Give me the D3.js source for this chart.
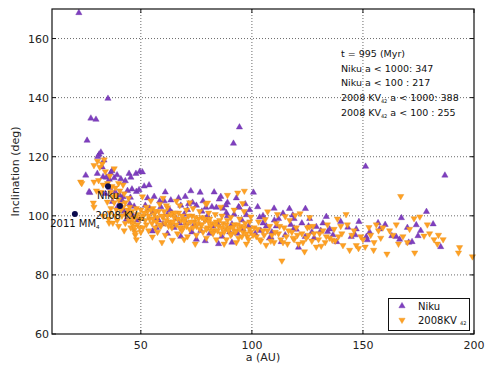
<!DOCTYPE html>
<html>
<head>
<meta charset="utf-8">
<script src="https://cdn.jsdelivr.net/npm/d3@7"></script>
<style>
  body { margin: 0; background: #fff; }
  svg { display: block; font-family: "DejaVu Sans", sans-serif; }
</style>
</head>
<body>
<div id="wrapper"></div>
<script>
// Niku clones: [a (AU), inclination (deg)]
const nikuPoints = [
  [22.1,168.7],[35.2,139.7],[27.5,133],[29.8,132.6],[25.8,125.5],[91.7,124.5],[94.4,130],[151.2,116.7],[186.9,113.7],
  [25.2,113.7],[27.0,107.8],[30.4,114.3],[31.2,120.8],[32.0,121.5],[30.6,120.0],[33.4,118.8],[32.6,116.5],[33.0,113.2],
  [34.5,113.0],[36.4,114.5],[37.0,115.2],[35.8,112.3],[38.0,112.8],[39.3,113.8],[41.0,112.5],[43.0,111.8],[44.7,114.3],
  [45.5,113.0],[47.8,114.3],[49.5,115.0],[36.0,109.5],[38.5,108.0],[40.5,107.0],[42.0,106.4],[44.0,108.5],[46.0,109.0],
  [48.0,108.2],[49.2,108.8],[26.7,108.1],[34.0,107.5],[37.2,104.8],[39.5,103.0],[42.5,101.5],[45.0,104.0],[47.0,103.2],
  [46.5,100.0],[48.5,98.5],[43.5,98.8],[41.5,105.3],[45.3,106.2],
  [50.7,114.8],[51.5,110],[53.7,110.4],[55.5,101.3],[60.5,105],[63.5,105.3],[72.5,108.4],[76.7,107.9],[73.3,104.5],
  [70.0,106.5],[71.5,104.0],[69.5,100.5],[70.5,97.5],[74.0,97.0],[79.3,102.8],[77.5,101.5],[82.0,103.0],[84.0,102.8],
  [85.3,105.6],[87.0,102.5],[89.0,104.5],[55.2,94.8],[58.0,98.5],[60.0,97.2],[66.0,99.0],[67.5,97.5],[63.0,102.0],
  [52.0,103.5],[54.0,102.5],[56.5,99.0],[79.5,98.5],[82.5,96.5],[81.0,94.0],[90.0,94.5],[93.5,94.0],[88.5,101.0],
  [92.0,100.5],[95.5,98.5],[97.5,100.3],[91.0,97.2],[96.0,95.5],[98.5,96.5],[86.5,93.0],[75.0,92.0],[62.0,100.5],
  [68.0,103.5],[65.0,96.0],[84.5,97.5],[94.0,103.0],[99.0,102.0],[58.5,105.0],[77.0,95.0],[88.3,103.6],[94.3,102.8],
  [56,106.5],[59,103],[61,108],[64,101],[67,106],[71,102],[75,103.5],[78,105],[80,100],[83,108],[86,106.5],[89,100],
  [93,106],[97,104],[53,106],[57,96],[62,94],[68,93],[73,94.5],[79,91.5],[85,90.5],[91,91],
  [100.7,107.9],[102.6,103],[103.5,99.5],[105,97.5],[104,95],[106.5,96.5],[107.9,92.4],[108.6,92.7],[110.1,98.5],
  [111,96.5],[112,99],[113.2,91.2],[114,100.8],[116.9,102.4],[118.4,100.2],[117.5,97],[119,95.8],[120,95.4],[121,89.3],
  [122.5,97.5],[124.1,102.4],[124,92.9],[125.5,96.5],[127,94.5],[129,96.3],[131,95],[133.5,99.7],[134.1,94.6],[135,95.5],
  [136.5,93.5],[138.2,91.2],[143.2,96.1],[144.7,92.9],[146.5,93.5],[148.2,98],[151.5,92.9],[152,91.8],[153,94.5],
  [156.8,97.6],[157.5,95.5],[163,93.2],[165,92.9],[166.5,92],[167.3,99.3],[170.6,91],[172.1,91.2],[174,96.9],
  [174.8,93.2],[178.6,101.4],[181.6,97.2],[185,89.5],[101.5,94],[109,94.5],[115,93.5],[128,92.5],
  [105,100],[110,102.5],[119,99],[126,99],[132,97.5],[140,98],[147,95.5],[160,97],[170,96],[176,95]
];

// 2008 KV42 clones: [a (AU), inclination (deg)]
const kvPoints = [
  [22.9,111.5],[23.4,111],[28.9,117.1],[30.5,118.5],[32.6,117.6],[33.5,119],[31.5,116.5],[28.9,111.5],[28.6,104.4],
  [28.9,103],[30,108.5],[31,112],[33,110.5],[34.9,104.7],[36.1,101],[39.4,98.5],[45.5,98],[47,95.2],[47.5,93.5],
  [35,111],[36.5,108],[37.5,106.5],[38,104.5],[39,107],[40,105.5],[41,104],[42,103],[43,104.5],[44,102],[45,100.5],
  [46,101.5],[47.5,99.5],[48.5,100.5],[49.5,99],[37,110],[38.5,109.5],[40.5,108.5],[42.5,107.5],[44.5,106],[39,102],
  [41.5,100],[43.5,100.5],[46.5,97.5],[48,102.5],[50,102],[34,115],[36,113.5],[38,116],[40,111],[32,108],[35.5,99],
  [33,100],[36.5,102.5],[45.5,96],[42,110.5],[35.7,97.6],[37.4,97.6],[47.4,94.3],[47,96.3],
  [44.5,98.5],[46.5,99],[48.5,97],[49.5,96],[45,103],[43,97.5],[41,102],[38.5,100],[40,96.5],[42.5,95],[50,94.5],
  [51,96],[48,92],
  [50.7,106.5],[54.5,105.1],[62,102.8],[79.3,104],[80,104.4],[55.2,92.9],[64.2,91.8],[69.5,92],[51,100],[52,98.5],
  [53,101.5],[54,99],[55,97.5],[56,100.5],[57,98],[58,101.5],[59,96.5],[60,99.5],[61,97.5],[62,100],[63,98],[64,96],
  [65,99.5],[66,97],[67,101],[68,98.5],[69,96],[70,99],[71,97.5],[72,95.5],[73,100],[74,98],[75,96.5],[76,99],[77,97],
  [78,94.5],[79,98.5],[80,96],[81,99],[82,97.5],[83,95],[84,98],[85,96.5],[86,94],[87,97.5],[88,95.5],[89,98.5],[90,96],
  [91,94],[92,97],[93,95],[94,92.5],[95,96.5],[96,94.5],[97,97.5],[98,93],[99,95.5],[52.5,103],[55.5,102.5],[58.5,104],
  [61.5,103.5],[64.5,101],[67.5,103.5],[70.5,102],[73.5,102.5],[76.5,101.5],[80.5,101],[83.5,100.5],[86.5,100],
  [90.5,99.5],[94.5,99],[53.5,95],[57.5,94.5],[61,93.5],[66.5,94],[71,93],[75,93.5],[79.5,92.5],[84,92],[88.5,92],
  [93,91],[97.5,90.5],[60,106],[66,105],[72,104.5],[86,103],[92,102],[89,107],[93.6,107.8],[96.6,108.4],[95.8,104.2],
  [63.5,97],[77.5,99.5],[81.5,95],[68.5,95],[56.5,96],[87.5,90.5],[74.5,90.5],[59.5,91],[99,98],[96.5,101.5],
  [50.5,99.5],[51.5,101],[52.5,97],[53.5,100],[54.5,102],[55.5,99],[56.5,101.5],[57.5,99.5],[58.5,97],[59.5,100],
  [60.5,101.5],[61.5,98.5],[62.5,96.5],[63.5,100.5],[64.5,98],[65.5,101],[66.5,99],[67.5,96],[68.5,100],[69.5,98],
  [70.5,96.5],[71.5,100],[72.5,98],[73.5,96],[74.5,99.5],[75.5,97.5],[76.5,95.5],[77.5,97],[78.5,99],[79.5,95.5],
  [80.5,98],[81.5,96.5],[82.5,94],[83.5,97],[84.5,95],[85.5,98.5],[86.5,96],[87.5,94.5],[88.5,97],[89.5,95],[90.5,93.5],
  [91.5,96],[92.5,94.5],[93.5,97],[94.5,95.5],[95.5,93],[96.5,96],[97.5,94],[98.5,92],[99.5,94.5],
  [99.5,99.7],[101,96],[102,93],[103,98],[104,91.5],[105,95],[106.4,90.1],[107.1,101.4],[108,96.5],[109,93.5],[110,91],
  [111,97.5],[112,94],[113,92],[113.5,84.8],[114.5,96],[115.5,93],[116,90.5],[117,98.5],[118,94.5],[119,92],[120,96],
  [121,90.5],[121.7,100.8],[122.5,94],[123.7,87.9],[124.5,92.5],[125,96],[126,96.3],[127,91.5],[128,94],[129,89.5],
  [130,92],[131.2,89.8],[132,95],[133,91],[134,97],[135,92.5],[136.2,91.8],[137,95.5],[138.5,99],[139,93],[140,96.5],
  [141,90],[142.4,100.5],[143,97],[144,88.4],[145,93.5],[147,90],[148,89],[150,92],[151,89.5],[152.7,96.1],[153.5,93.5],
  [154.8,88.4],[156,97],[157,95],[158,92.5],[160.8,87.1],[162,95],[165,97],[167,106.6],[168,93],[170,91],[173,99.1],
  [173.3,87.5],[175.6,99.7],[177.5,93.2],[180,94],[182,92],[184,93.5],[186.1,92],[193,87.5],[193.5,89.3],[199.3,86.2],
  [111.5,100.5],[115,99.8],[119.5,100.2],[106,98.8],[126,99.5],
  [100.5,93.5],[102.5,95.5],[103.5,92],[105.5,93.5],[107,95],[108.5,91.5],[110.5,94.5],[112.5,96.5],[114,91],[116.5,95],
  [118.5,92.5],[120.5,93.5],[123,91],[125.5,93.5],[127.5,96.5],[130.5,94],[133.5,93],[137.5,91.5],[140.5,94],[146,95],
  [149,93],[155,91],[159,96],[163.5,93.5],[166,90.5],[171,95.5],[179,97],[183.5,90.5]
];

// named objects
const namedNames = ["2011 MM", "Niku", "2008 KV"];
const namedSubs = ["4", "", "42"];
const namedA = [20.3, 35.2, 40.6];
const namedInc = [100.6, 110.0, 103.3];

const xTicks = [50, 100, 150, 200];
const yTicks = [60, 80, 100, 120, 140, 160];

const infoLines = [
  ["t = 995 (Myr)", "", ""],
  ["Niku a < 1000: 347", "", ""],
  ["Niku a < 100 : 217", "", ""],
  ["2008 KV", "42", " a < 1000: 388"],
  ["2008 KV", "42", " a < 100 : 255"]
];

const purple = "#7f3fbf";
const orange = "#ffa124";

const dims = { width: 500, height: 367, left: 52, right: 474, top: 9, bottom: 334 };

const svg = d3.select("#wrapper").append("svg")
  .attr("width", dims.width)
  .attr("height", dims.height);

const x = d3.scaleLinear().domain([10, 200]).range([dims.left, dims.right]);
const y = d3.scaleLinear().domain([60, 170]).range([dims.bottom, dims.top]);

// grid
svg.append("g").selectAll("line").data(xTicks.filter(d => d < 200)).join("line")
  .attr("x1", d => x(d)).attr("x2", d => x(d))
  .attr("y1", dims.top).attr("y2", dims.bottom)
  .attr("stroke", "#444").attr("stroke-width", 0.8).attr("stroke-dasharray", "1,2");
svg.append("g").selectAll("line").data(yTicks.filter(d => d > 60)).join("line")
  .attr("x1", dims.left).attr("x2", dims.right)
  .attr("y1", d => y(d)).attr("y2", d => y(d))
  .attr("stroke", "#444").attr("stroke-width", 0.8).attr("stroke-dasharray", "1,2");

// text box
const info = svg.append("g").attr("font-size", 9.5).attr("fill", "#111");
infoLines.forEach((l, i) => {
  const t = info.append("text").attr("x", 341).attr("y", 57 + i * 14.7);
  t.append("tspan").text(l[0]);
  if (l[1]) {
    t.append("tspan").attr("font-size", 5).attr("dy", 2).text(l[1]);
    t.append("tspan").attr("dy", -2).text(l[2]);
  }
});

const triUp = d3.symbol().type(d3.symbolTriangle).size(17);

// Niku first, then 2008 KV42 on top (legend order)
svg.append("g").selectAll("path").data(nikuPoints).join("path")
  .attr("d", triUp)
  .attr("transform", d => `translate(${x(d[0])},${y(d[1])})`)
  .attr("fill", purple).attr("stroke", "#6a30a8").attr("stroke-width", 0.4);

svg.append("g").selectAll("path").data(kvPoints).join("path")
  .attr("d", triUp)
  .attr("transform", d => `translate(${x(d[0])},${y(d[1])}) rotate(180)`)
  .attr("fill", orange).attr("stroke", "#e8901a").attr("stroke-width", 0.4);

// labels of named objects (under the points)
const labels = svg.append("g").attr("font-size", 10).attr("fill", "#111");
namedNames.forEach((n, i) => {
  const t = labels.append("text")
    .attr("x", x(namedA[i]))
    .attr("y", y(namedInc[i]) + 13)
    .attr("text-anchor", "middle");
  t.append("tspan").text(n);
  if (namedSubs[i]) t.append("tspan").attr("font-size", 5.5).attr("dy", 2).text(namedSubs[i]);
});

svg.append("g").selectAll("circle").data(namedA).join("circle")
  .attr("cx", d => x(d))
  .attr("cy", (d, i) => y(namedInc[i]))
  .attr("r", 3)
  .attr("fill", "#0b0b4d");

// frame
svg.append("rect")
  .attr("x", dims.left).attr("y", dims.top)
  .attr("width", dims.right - dims.left).attr("height", dims.bottom - dims.top)
  .attr("fill", "none").attr("stroke", "#111").attr("stroke-width", 1.2);

// ticks inward on all four sides
const ticks = svg.append("g").attr("stroke", "#111").attr("stroke-width", 1);
xTicks.forEach(d => {
  ticks.append("line").attr("x1", x(d)).attr("x2", x(d)).attr("y1", dims.bottom).attr("y2", dims.bottom - 4);
  ticks.append("line").attr("x1", x(d)).attr("x2", x(d)).attr("y1", dims.top).attr("y2", dims.top + 4);
});
yTicks.forEach(d => {
  ticks.append("line").attr("x1", dims.left).attr("x2", dims.left + 4).attr("y1", y(d)).attr("y2", y(d));
  ticks.append("line").attr("x1", dims.right).attr("x2", dims.right - 4).attr("y1", y(d)).attr("y2", y(d));
});

// tick labels
svg.append("g").attr("font-size", 11).attr("fill", "#222").attr("text-anchor", "middle")
  .selectAll("text").data(xTicks).join("text")
  .attr("x", d => x(d)).attr("y", dims.bottom + 15).text(d => d);
svg.append("g").attr("font-size", 11).attr("fill", "#222").attr("text-anchor", "end")
  .selectAll("text").data(yTicks).join("text")
  .attr("x", dims.left - 3).attr("y", d => y(d) + 4).text(d => d);

// axis titles
svg.append("text").attr("x", (dims.left + dims.right) / 2).attr("y", 361)
  .attr("text-anchor", "middle").attr("font-size", 11).attr("fill", "#222").text("a (AU)");
svg.append("text")
  .attr("transform", `translate(19,${(dims.top + dims.bottom) / 2}) rotate(-90)`)
  .attr("text-anchor", "middle").attr("font-size", 11).attr("fill", "#222").text("Inclination (deg)");

// legend
const legend = svg.append("g");
legend.append("rect").attr("x", 388.5).attr("y", 298.5).attr("width", 81).attr("height", 32)
  .attr("fill", "#fff").attr("stroke", "#111").attr("stroke-width", 1);
legend.append("path").attr("d", triUp).attr("transform", "translate(402,306)")
  .attr("fill", purple).attr("stroke", "#6a30a8").attr("stroke-width", 0.4);
legend.append("path").attr("d", triUp).attr("transform", "translate(402,320) rotate(180)")
  .attr("fill", orange).attr("stroke", "#e8901a").attr("stroke-width", 0.4);
legend.append("text").attr("x", 418).attr("y", 309.5).attr("font-size", 10).attr("fill", "#111").text("Niku");
const lt = legend.append("text").attr("x", 418).attr("y", 323.5).attr("font-size", 10).attr("fill", "#111");
lt.append("tspan").text("2008KV ");
lt.append("tspan").attr("font-size", 5).attr("dy", 1.5).text("42");
</script>
</body>
</html>
